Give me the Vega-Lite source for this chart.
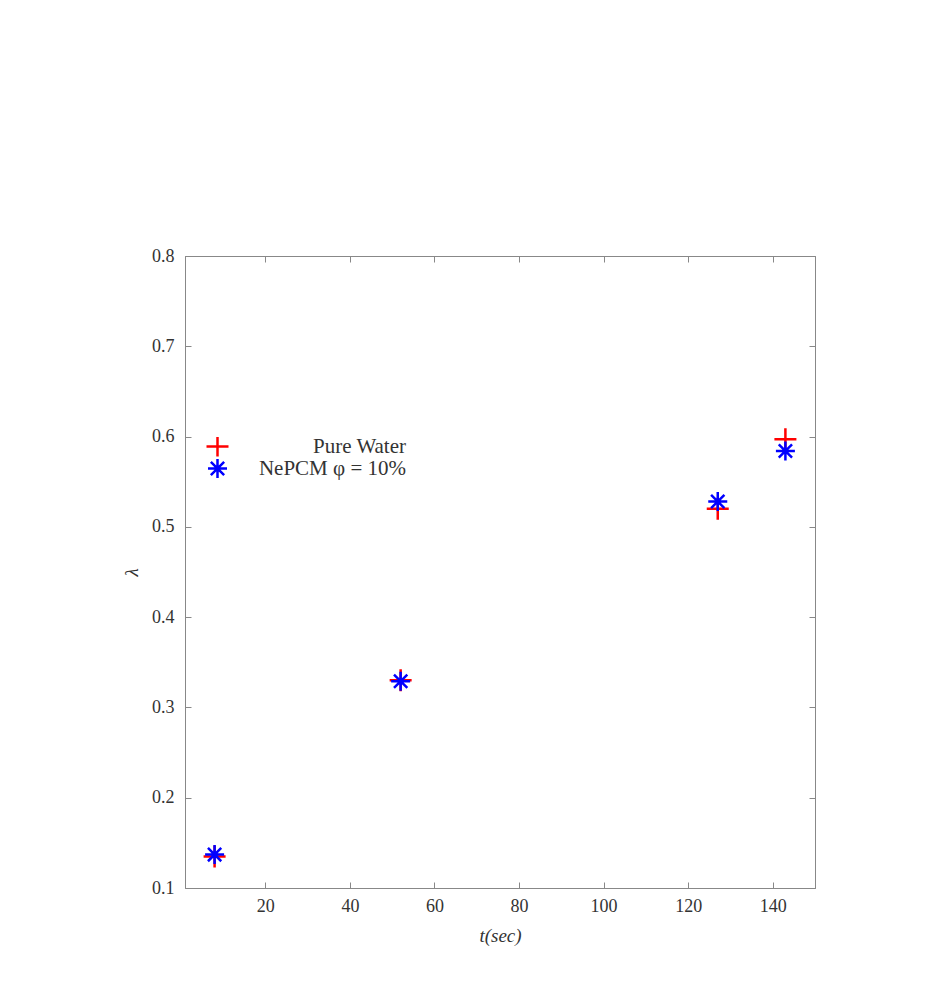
{
  "$schema": "https://vega.github.io/schema/vega-lite/v6.json",
  "width": 630,
  "height": 632,
  "autosize": "none",
  "padding": {"left": 185, "top": 256, "right": 113, "bottom": 96},
  "background": "white",
  "config": {
    "view": {"stroke": "#888888", "strokeWidth": 1},
    "font": "Liberation Serif",
    "axis": {
      "labelFont": "Liberation Serif",
      "titleFont": "Liberation Serif",
      "labelFontSize": 18,
      "titleFontSize": 19,
      "labelColor": "#333333",
      "titleColor": "#333333",
      "titleFontWeight": "normal",
      "domainColor": "#888888",
      "tickColor": "#888888",
      "tickSize": -6,
      "grid": false
    }
  },
  "data": {
    "values": [
      {"t": 8, "lambda": 0.135, "series": "Pure Water"},
      {"t": 52, "lambda": 0.330, "series": "Pure Water"},
      {"t": 127, "lambda": 0.520, "series": "Pure Water"},
      {"t": 143, "lambda": 0.597, "series": "Pure Water"},
      {"t": 8, "lambda": 0.137, "series": "NePCM φ = 10%"},
      {"t": 52, "lambda": 0.329, "series": "NePCM φ = 10%"},
      {"t": 127, "lambda": 0.528, "series": "NePCM φ = 10%"},
      {"t": 143, "lambda": 0.584, "series": "NePCM φ = 10%"}
    ]
  },
  "layer": [
    {
      "mark": {"type": "point", "filled": false, "strokeWidth": 2.5, "opacity": 1},
      "encoding": {
        "x": {
          "field": "t", "type": "quantitative",
          "scale": {"domain": [1, 150], "nice": false, "zero": false},
          "axis": {"title": "t(sec)", "titleFontStyle": "italic", "values": [20, 40, 60, 80, 100, 120, 140], "labelPadding": 15, "titlePadding": 11}
        },
        "y": {
          "field": "lambda", "type": "quantitative",
          "scale": {"domain": [0.1, 0.8], "nice": false, "zero": false},
          "axis": {"title": "λ", "titleFontStyle": "italic", "values": [0.1, 0.2, 0.3, 0.4, 0.5, 0.6, 0.7, 0.8], "format": ".1f", "labelPadding": 17, "titlePadding": 10}
        },
        "color": {
          "field": "series", "type": "nominal",
          "sort": ["Pure Water", "NePCM φ = 10%"],
          "scale": {"domain": ["Pure Water", "NePCM φ = 10%"], "range": ["#ff0000", "#0000ff"]},
          "legend": {
            "title": null,
            "orient": "none",
            "legendX": 20,
            "legendY": 181,
            "padding": 0,
            "labelFont": "Liberation Serif",
            "labelFontSize": 21,
            "labelColor": "#333333",
            "labelAlign": "right",
            "labelOffset": 176,
            "labelLimit": 400,
            "rowPadding": 0,
            "clipHeight": 19,
            "symbolStrokeWidth": 2.5
          }
        },
        "shape": {
          "field": "series", "type": "nominal",
          "sort": ["Pure Water", "NePCM φ = 10%"],
          "scale": {"domain": ["Pure Water", "NePCM φ = 10%"], "range": ["M-1,0L1,0M0,-1L0,1", "M-1,0L1,0M0,-1L0,1M-0.7,-0.7L0.7,0.7M-0.7,0.7L0.7,-0.7"]}
        },
        "size": {
          "field": "series", "type": "nominal",
          "sort": ["Pure Water", "NePCM φ = 10%"],
          "scale": {"domain": ["Pure Water", "NePCM φ = 10%"], "range": [484, 361]}
        }
      }
    },
    {
      "mark": {"type": "point", "opacity": 0},
      "encoding": {
        "x": {
          "field": "t", "type": "quantitative",
          "scale": {"domain": [1, 150], "nice": false, "zero": false},
          "axis": {"orient": "top", "title": null, "labels": false, "values": [20, 40, 60, 80, 100, 120, 140]}
        },
        "y": {
          "field": "lambda", "type": "quantitative",
          "scale": {"domain": [0.1, 0.8], "nice": false, "zero": false},
          "axis": {"orient": "right", "title": null, "labels": false, "values": [0.1, 0.2, 0.3, 0.4, 0.5, 0.6, 0.7, 0.8]}
        }
      }
    }
  ],
  "resolve": {"axis": {"x": "independent", "y": "independent"}}
}
